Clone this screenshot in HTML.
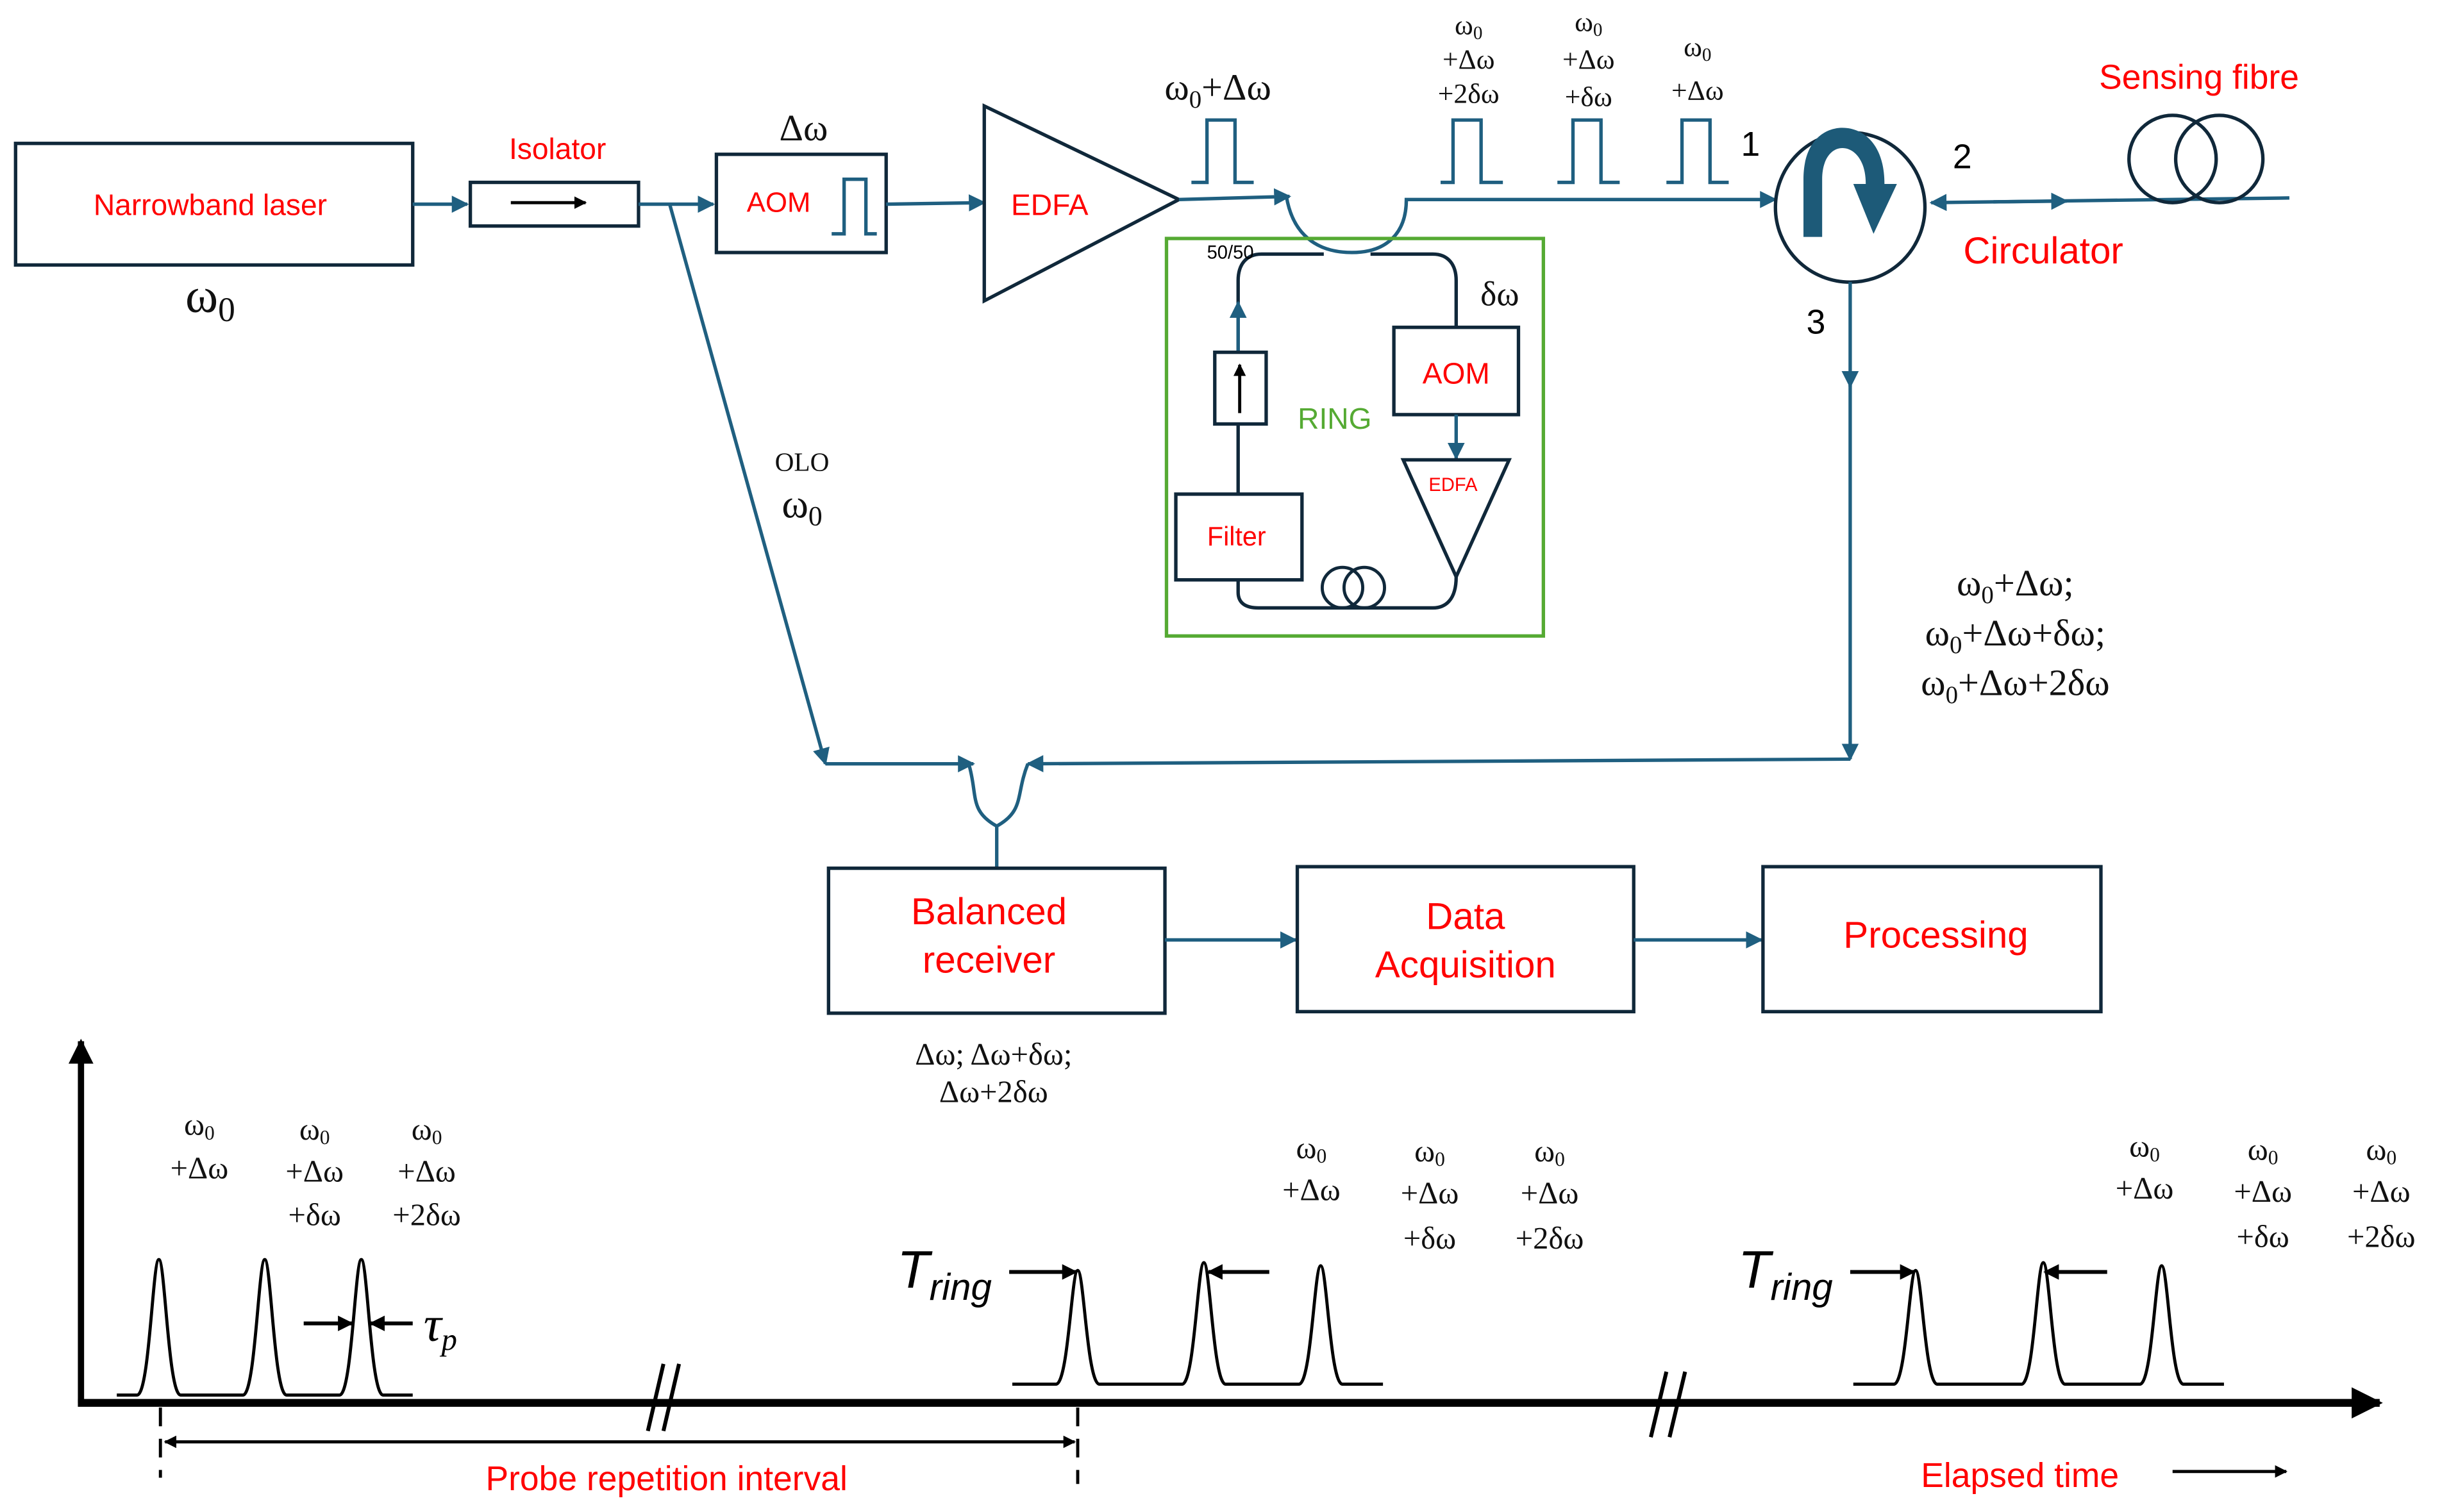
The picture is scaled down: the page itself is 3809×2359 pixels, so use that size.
<!DOCTYPE html>
<html><head><meta charset="utf-8"><style>
html,body{margin:0;padding:0;background:#fff;}
svg{display:block;}
.r{fill:#ff0000;font-family:"Liberation Sans",sans-serif;}
.s{font-family:"Liberation Serif",serif;fill:#111;}
.ln{stroke:#1f5f80;stroke-width:2.2;fill:none;}
.bx{stroke:#10283a;stroke-width:2.2;fill:#fff;}
.k{stroke:#000;fill:none;}
</style></head><body>
<svg width="3809" height="2359" viewBox="0 0 1568 970" preserveAspectRatio="none" xmlns="http://www.w3.org/2000/svg">
<defs>
<marker id="a" viewBox="0 0 10 10" refX="9" refY="5" markerWidth="5" markerHeight="5" orient="auto"><path d="M0,0 L10,5 L0,10 z" fill="#1f5f80"/></marker>
<marker id="b" viewBox="0 0 10 10" refX="9" refY="5" markerWidth="4" markerHeight="4" orient="auto"><path d="M0,0 L10,5 L0,10 z" fill="#000"/></marker>
<marker id="bs" viewBox="0 0 10 10" refX="1" refY="5" markerWidth="4" markerHeight="4" orient="auto"><path d="M10,0 L0,5 L10,10 z" fill="#000"/></marker>
</defs>
<!-- laser -->
<rect class="bx" x="10" y="92" width="255" height="78"/>
<text class="r" x="135" y="138" font-size="19" text-anchor="middle">Narrowband laser</text>
<text class="s" x="135" y="200" font-size="32" text-anchor="middle">ω<tspan font-size="22" dy="6">0</tspan></text>
<line class="ln" x1="265" y1="131" x2="300" y2="131" marker-end="url(#a)"/>
<rect class="bx" x="302" y="117" width="108" height="28"/>
<line x1="328" y1="130" x2="376" y2="130" stroke="#000" stroke-width="2" marker-end="url(#b)"/>
<text class="r" x="358" y="102" font-size="19" text-anchor="middle">Isolator</text>
<line class="ln" x1="410" y1="131" x2="458" y2="131" marker-end="url(#a)"/>
<polyline class="ln" points="430,131 530,490" marker-end="url(#a)"/>
<text class="s" x="515" y="302" font-size="17" text-anchor="middle">OLO</text>
<text class="s" x="515" y="332" font-size="26" text-anchor="middle">ω<tspan font-size="18" dy="5">0</tspan></text>
<!-- AOM -->
<rect class="bx" x="460" y="99" width="109" height="63"/>
<text class="r" x="500" y="136" font-size="18" text-anchor="middle">AOM</text>
<path class="ln" d="M534,150 H542 V115 H556 V150 H563"/>
<text class="s" x="516" y="90" font-size="24" text-anchor="middle">Δω</text>
<line class="ln" x1="569" y1="131" x2="632" y2="130" marker-end="url(#a)"/>
<polygon class="bx" points="632,68 632,193 757,128"/>
<text class="r" x="674" y="138" font-size="19" text-anchor="middle">EDFA</text>
<line class="ln" x1="757" y1="128" x2="828" y2="126" marker-end="url(#a)"/>
<path class="ln" d="M765,117 H775 V77 H793 V117 H805"/>
<text class="s" x="782" y="64" font-size="24" text-anchor="middle">ω<tspan font-size="16" dy="5">0</tspan><tspan dy="-5">+Δω</tspan></text>
<!-- coupler -->
<path class="ln" d="M826,126 C830,150 845,162 868,162 C890,162 903,150 903,128 L1140,128" marker-end="url(#a)"/>
<path class="ln" d="M925,117 H933 V77 H951 V117 H965"/>
<path class="ln" d="M1000,117 H1010 V77 H1028 V117 H1040"/>
<path class="ln" d="M1070,117 H1080 V77 H1098 V117 H1110"/>
<g class="s" font-size="18" text-anchor="middle">
<text x="943" y="22">ω<tspan font-size="12" dy="3">0</tspan></text><text x="943" y="44">+Δω</text><text x="943" y="66">+2δω</text>
<text x="1020" y="20">ω<tspan font-size="12" dy="3">0</tspan></text><text x="1020" y="44">+Δω</text><text x="1020" y="68">+δω</text>
<text x="1090" y="36">ω<tspan font-size="12" dy="3">0</tspan></text><text x="1090" y="64">+Δω</text>
</g>
<text x="1124" y="100" font-family="Liberation Sans" font-size="22" text-anchor="middle">1</text>
<text x="1260" y="108" font-family="Liberation Sans" font-size="22" text-anchor="middle">2</text>
<text x="1166" y="214" font-family="Liberation Sans" font-size="22" text-anchor="middle">3</text>
<!-- circulator -->
<circle cx="1188" cy="133" r="48" fill="#fff" stroke="#10283a" stroke-width="2.2"/>
<path d="M1158,152 L1158,115 C1158,90 1172,82 1183,82 C1196,82 1210,92 1210,118 L1218,118 L1203,150 L1190,118 L1198,118 C1198,102 1190,95 1183,95 C1176,95 1170,102 1170,115 L1170,152 z" fill="#1d5a78"/>
<text class="r" x="1312" y="169" font-size="24" text-anchor="middle">Circulator</text>
<line class="ln" x1="1470" y1="127" x2="1240" y2="130" marker-end="url(#a)"/>
<line class="ln" x1="1280" y1="129.5" x2="1327" y2="129" marker-end="url(#a)"/>
<circle cx="1395" cy="102" r="28" fill="none" stroke="#10283a" stroke-width="2.2"/>
<circle cx="1425" cy="102" r="28" fill="none" stroke="#10283a" stroke-width="2.2"/>
<text class="r" x="1412" y="57" font-size="22" text-anchor="middle">Sensing fibre</text>
<line class="ln" x1="1188" y1="181" x2="1188" y2="248" marker-end="url(#a)"/>
<line class="ln" x1="1188" y1="245" x2="1188" y2="487" marker-end="url(#a)"/>
<line class="ln" x1="1188" y1="487" x2="660" y2="490" marker-end="url(#a)"/>
<g class="s" font-size="24" text-anchor="middle">
<text x="1294" y="382">ω<tspan font-size="16" dy="5">0</tspan><tspan dy="-5">+Δω;</tspan></text>
<text x="1294" y="414">ω<tspan font-size="16" dy="5">0</tspan><tspan dy="-5">+Δω+δω;</tspan></text>
<text x="1294" y="446">ω<tspan font-size="16" dy="5">0</tspan><tspan dy="-5">+Δω+2δω</tspan></text>
</g>
<line class="ln" x1="530" y1="490" x2="625" y2="490" marker-end="url(#a)"/>
<path class="ln" d="M622,490 C628,510 622,520 640,530 C658,520 652,510 660,490 M640,530 L640,556"/>
<!-- bottom boxes -->
<rect class="bx" x="532" y="557" width="216" height="93"/>
<text class="r" x="635" y="593" font-size="24" text-anchor="middle">Balanced</text>
<text class="r" x="635" y="624" font-size="24" text-anchor="middle">receiver</text>
<line class="ln" x1="748" y1="603" x2="832" y2="603" marker-end="url(#a)"/>
<rect class="bx" x="833" y="556" width="216" height="93"/>
<text class="r" x="941" y="596" font-size="24" text-anchor="middle">Data</text>
<text class="r" x="941" y="627" font-size="24" text-anchor="middle">Acquisition</text>
<line class="ln" x1="1049" y1="603" x2="1131" y2="603" marker-end="url(#a)"/>
<rect class="bx" x="1132" y="556" width="217" height="93"/>
<text class="r" x="1243" y="608" font-size="24" text-anchor="middle">Processing</text>
<text class="s" x="638" y="683" font-size="20" text-anchor="middle">Δω; Δω+δω;</text>
<text class="s" x="638" y="707" font-size="20" text-anchor="middle">Δω+2δω</text>
<!-- ring -->
<rect x="749" y="153" width="242" height="255" fill="none" stroke="#55aa33" stroke-width="2.2"/>
<path d="M880,163 H920 C930,163 935,170 935,180 V210 M795,317 V272 M795,226 V180 C795,170 800,163 810,163 H850" stroke="#10283a" stroke-width="2.2" fill="none"/>
<line class="ln" x1="795" y1="228" x2="795" y2="194" marker-end="url(#a)"/>
<path d="M795,372 V380 C795,387 800,390 808,390 H920 C928,390 935,385 935,370" stroke="#10283a" stroke-width="2.2" fill="none"/>
<circle cx="862" cy="377" r="13" fill="none" stroke="#10283a" stroke-width="2"/>
<circle cx="876" cy="377" r="13" fill="none" stroke="#10283a" stroke-width="2"/>
<rect class="bx" x="780" y="226" width="33" height="46"/>
<line x1="796" y1="265" x2="796" y2="234" stroke="#000" stroke-width="2" marker-end="url(#b)"/>
<rect class="bx" x="755" y="317" width="81" height="55"/>
<text class="r" x="794" y="350" font-size="17" text-anchor="middle">Filter</text>
<rect class="bx" x="895" y="210" width="80" height="56"/>
<text class="r" x="935" y="246" font-size="19" text-anchor="middle">AOM</text>
<line class="ln" x1="935" y1="266" x2="935" y2="294" marker-end="url(#a)"/>
<polygon class="bx" points="901,295 969,295 935,370"/>
<text class="r" x="933" y="315" font-size="12" text-anchor="middle">EDFA</text>
<text class="s" x="963" y="196" font-size="22" text-anchor="middle">δω</text>
<text x="790" y="166" font-family="Liberation Sans" font-size="12" text-anchor="middle">50/50</text>
<text x="857" y="275" font-family="Liberation Sans" font-size="19" fill="#55aa33" text-anchor="middle">RING</text>
<!-- timing -->
<line x1="52" y1="900" x2="52" y2="668" stroke="#000" stroke-width="4" marker-end="url(#b)"/>
<line x1="50" y1="900" x2="1528" y2="900" stroke="#000" stroke-width="5" marker-end="url(#b)"/>
<g class="k" stroke-width="2">
<path d="M75,895 H88 C96,895 98,808 102,808 C106,808 108,895 116,895 H156 C164,895 166,808 170,808 C174,808 176,895 184,895 H218 C226,895 228,808 232,808 C236,808 238,895 246,895 H265"/>
<path d="M650,888 H678 C686,888 688,815 692,815 C696,815 698,888 706,888 H759 C767,888 769,810 773,810 C777,810 779,888 787,888 H834 C842,888 844,812 848,812 C852,812 854,888 862,888 H888"/>
<path d="M1190,888 H1216 C1224,888 1226,815 1230,815 C1234,815 1236,888 1244,888 H1298 C1306,888 1308,810 1312,810 C1316,810 1318,888 1326,888 H1374 C1382,888 1384,812 1388,812 C1392,812 1394,888 1402,888 H1428"/>
</g>
<g stroke="#000" stroke-width="2.5">
<line x1="416" y1="918" x2="426" y2="875"/><line x1="426" y1="918" x2="436" y2="875"/>
<line x1="1060" y1="922" x2="1070" y2="880"/><line x1="1072" y1="922" x2="1082" y2="880"/>
</g>
<g stroke="#000" stroke-width="2.5" fill="none">
<line x1="195" y1="849" x2="226" y2="849" marker-end="url(#b)"/>
<line x1="265" y1="849" x2="238" y2="849" marker-end="url(#b)"/>
<line x1="648" y1="816" x2="691" y2="816" marker-end="url(#b)"/>
<line x1="815" y1="816" x2="776" y2="816" marker-end="url(#b)"/>
<line x1="1188" y1="816" x2="1229" y2="816" marker-end="url(#b)"/>
<line x1="1353" y1="816" x2="1313" y2="816" marker-end="url(#b)"/>
<line x1="106" y1="925" x2="690" y2="925" stroke-width="2" marker-end="url(#b)" marker-start="url(#bs)"/>
<line x1="1395" y1="944" x2="1468" y2="944" stroke-width="2" marker-end="url(#b)"/>
<line x1="103" y1="903" x2="103" y2="948" stroke-width="2" stroke-dasharray="12,8"/>
<line x1="692" y1="903" x2="692" y2="952" stroke-width="2" stroke-dasharray="12,8"/>
</g>
<text x="272" y="860" font-family="Liberation Serif" font-style="italic" font-size="32">τ<tspan font-size="20" dy="6">p</tspan></text>
<text x="576" y="826" font-family="Liberation Sans" font-style="italic" font-size="34">T<tspan font-size="24" dy="8">ring</tspan></text>
<text x="1116" y="826" font-family="Liberation Sans" font-style="italic" font-size="34">T<tspan font-size="24" dy="8">ring</tspan></text>
<g class="s" font-size="20" text-anchor="middle">
<text x="128" y="728">ω<tspan font-size="13" dy="3">0</tspan></text><text x="128" y="756">+Δω</text>
<text x="202" y="731">ω<tspan font-size="13" dy="3">0</tspan></text><text x="202" y="758">+Δω</text><text x="202" y="786">+δω</text>
<text x="274" y="731">ω<tspan font-size="13" dy="3">0</tspan></text><text x="274" y="758">+Δω</text><text x="274" y="786">+2δω</text>
<text x="842" y="743">ω<tspan font-size="13" dy="3">0</tspan></text><text x="842" y="770">+Δω</text>
<text x="918" y="745">ω<tspan font-size="13" dy="3">0</tspan></text><text x="918" y="772">+Δω</text><text x="918" y="801">+δω</text>
<text x="995" y="745">ω<tspan font-size="13" dy="3">0</tspan></text><text x="995" y="772">+Δω</text><text x="995" y="801">+2δω</text>
<text x="1377" y="742">ω<tspan font-size="13" dy="3">0</tspan></text><text x="1377" y="769">+Δω</text>
<text x="1453" y="744">ω<tspan font-size="13" dy="3">0</tspan></text><text x="1453" y="771">+Δω</text><text x="1453" y="800">+δω</text>
<text x="1529" y="744">ω<tspan font-size="13" dy="3">0</tspan></text><text x="1529" y="771">+Δω</text><text x="1529" y="800">+2δω</text>
</g>
<text class="r" x="428" y="956" font-size="22" text-anchor="middle">Probe repetition interval</text>
<text class="r" x="1297" y="954" font-size="22" text-anchor="middle">Elapsed time</text>
</svg>
</body></html>
